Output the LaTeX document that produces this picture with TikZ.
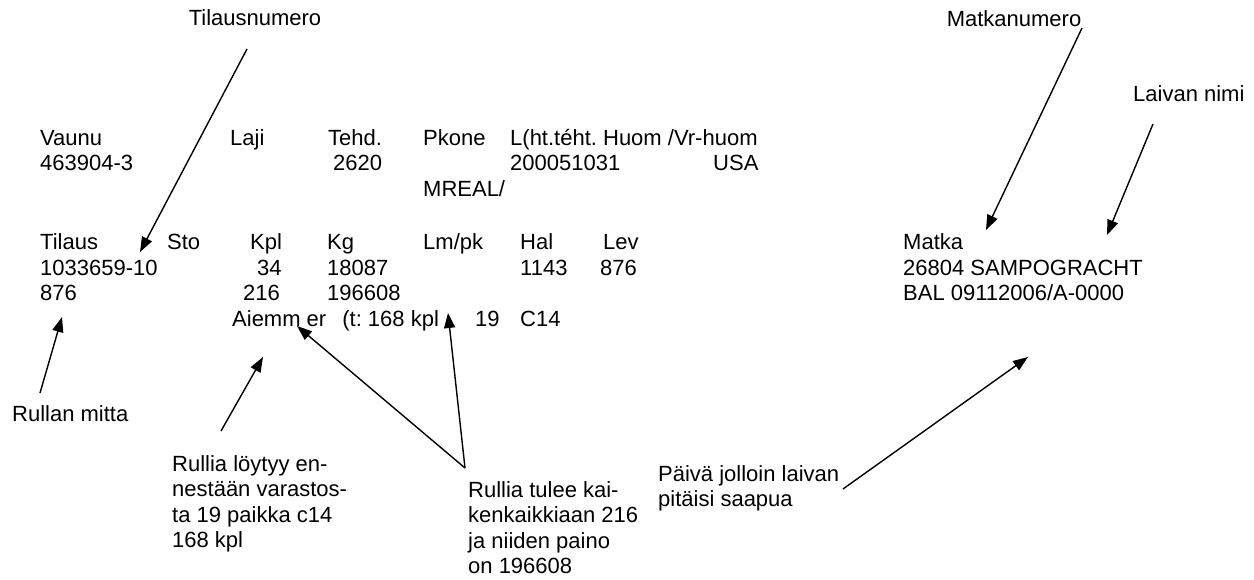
\documentclass[tikz,border=0pt]{standalone}
\usepackage{fontspec}
\setmainfont{Liberation Sans}
\usetikzlibrary{arrows.meta}
\frenchspacing
\tikzset{
  txt/.style={anchor=base west, inner sep=0pt, font=\fontsize{22}{25.5}\selectfont},
  ctxt/.style={anchor=base, inner sep=0pt, font=\fontsize{22}{25.5}\selectfont},
  pointer/.style={line width=1.4pt, -{Triangle[length=15pt,width=11pt]}}
}
\newcommand{\lines}[1]{\begin{tabular}[t]{@{}l@{}}#1\end{tabular}}
\begin{document}
\begin{tikzpicture}[x=1pt,y=-1pt]
\useasboundingbox[fill=white] (0,0) rectangle (1254,579);
% header rows
\node[txt] (vaunu) at (40,145) {Vaunu};
\node[txt] (laji) at (230,145) {Laji};
\node[txt] (tehd) at (328,145) {Tehd.};
\node[txt] (pkone) at (423,145) {Pkone};
\node[txt] (lhtteht) at (510,145) {L(ht.téht. Huom /Vr-huom};
\node[txt] (vaunuv) at (40,170.5) {463904-3};
\node[txt] (tehdv) at (333,170.5) {2620};
\node[txt] (lhttehtv) at (510,170.5) {200051031};
\node[txt] (usa) at (713,170.5) {USA};
\node[txt] (mreal) at (423,196) {MREAL/};
% order rows
\node[txt] (tilaus) at (40,249) {Tilaus};
\node[txt] (sto) at (167,249) {Sto};
\node[txt] (kpl) at (250,249) {Kpl};
\node[txt] (kg) at (327,249) {Kg};
\node[txt] (lmpk) at (423,249) {Lm/pk};
\node[txt] (hal) at (520,249) {Hal};
\node[txt] (lev) at (603,249) {Lev};
\node[txt] (tilausv) at (40,275) {1033659-10};
\node[txt] (kplv) at (257,275) {34};
\node[txt] (kgv) at (327,275) {18087};
\node[txt] (halv) at (520,275) {1143};
\node[txt] (levv) at (600,275) {876};
\node[txt] (mitta) at (40,300.5) {876};
\node[txt] (kpltot) at (243,300.5) {216};
\node[txt] (kgtot) at (327,300.5) {196608};
\node[txt] (aiemm) at (232,326) {Aiemm er\hspace{16pt}(t: 168 kpl};
\node[txt] (paikka) at (475,326) {19};
\node[txt] (c14) at (520,326) {C14};
% voyage
\node[txt] (matka) at (903,249) {Matka};
\node[txt] (laiva) at (903,275) {26804 SAMPOGRACHT};
\node[txt] (pvm) at (903,300.5) {BAL 09112006/A-0000};
% labels
\node[ctxt] (tilausnro) at (255,25) {Tilausnumero};
\node[ctxt] (matkanro) at (1014,26) {Matkanumero};
\node[txt] (laivannimi) at (1133,101) {Laivan nimi};
\node[txt] (rullanmitta) at (12,421) {Rullan mitta};
\node[txt] (loytyy) at (172,471) {\lines{Rullia löytyy en-\\nestään varastos-\\ta 19 paikka c14\\168 kpl}};
\node[txt] (tulee) at (468,497) {\lines{Rullia tulee kai-\\kenkaikkiaan 216\\ja niiden paino\\on 196608}};
\node[txt] (paiva) at (658,481) {\lines{Päivä jolloin laivan\\pitäisi saapua}};
% connector ends
\coordinate (t0) at (247,49);   \coordinate (t1) at (140,252);
\coordinate (m0) at (1082,28);  \coordinate (m1) at (986,230);
\coordinate (l0) at (1153,124); \coordinate (l1) at (1107,235);
\coordinate (r0) at (40,393);   \coordinate (r1) at (62,317);
\coordinate (y0) at (221,431);  \coordinate (y1) at (263,357);
\coordinate (apex) at (465,468);
\coordinate (a1) at (297,326);  \coordinate (k1) at (448,313);
\coordinate (p0) at (843,489);  \coordinate (p1) at (1028,357);
% connectors
\draw[pointer] (t0) -- (t1);
\draw[pointer] (m0) -- (m1);
\draw[pointer] (l0) -- (l1);
\draw[pointer] (r0) -- (r1);
\draw[pointer] (y0) -- (y1);
\draw[pointer] (apex) -- (a1);
\draw[pointer] (apex) -- (k1);
\draw[pointer] (p0) -- (p1);
\end{tikzpicture}
\end{document}
